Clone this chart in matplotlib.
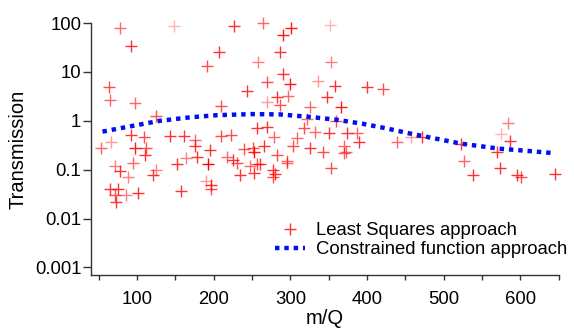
"""Transmission vs m/Q: least squares points and constrained fit."""
import matplotlib
matplotlib.use("Agg")
import matplotlib.pyplot as plt
from matplotlib.ticker import MultipleLocator, FixedLocator, NullLocator

# least squares estimates (m/Q, transmission, opacity)
LS_MQ = [78, 148, 226, 92, 207, 191, 64, 65, 97, 209, 243,
         264, 301, 290, 352, 286, 258, 353, 290, 269, 300, 336, 358, 400, 421,
         283, 297, 270, 348, 286, 325, 366, 125,
         53, 66, 92, 109, 143, 161, 175, 209, 223, 97, 112, 110, 175, 195,
         178, 164, 152, 192, 218, 225, 240, 231, 234, 71, 78, 88, 121,
         65, 75, 71, 73, 86, 101, 158, 196, 190, 196, 125, 95, 253, 277,
         277, 257, 295,
         322, 360, 257, 269, 279, 318, 332, 351, 374, 387, 309, 304, 326,
         342, 370, 390, 370, 439, 253, 251, 266, 283, 296, 247, 260, 280,
         353, 372,
         457, 471, 523, 526, 538, 584, 575, 587, 570, 573, 595, 601, 645]
LS_T = [78, 88, 88, 34, 26, 13, 4.9, 2.6, 2.3, 2.0, 4.1,
        100, 79, 57, 91, 26, 16, 16, 9.1, 6.3, 5.7, 6.6, 5.2, 4.9, 4.5,
        3.1, 3.2, 2.4, 3.1, 2.1, 1.9, 1.9, 1.25,
        0.28, 0.36, 0.5, 0.47, 0.48, 0.48, 0.41, 0.48, 0.5, 0.28, 0.28, 0.2,
        0.31, 0.25, 0.18, 0.17, 0.13, 0.13, 0.18, 0.16, 0.26, 0.14, 0.076,
        0.12, 0.092, 0.072, 0.076,
        0.04, 0.04, 0.031, 0.022, 0.031, 0.034, 0.037, 0.049, 0.058, 0.04,
        0.1, 0.14, 0.085, 0.1, 0.07, 0.13, 0.14,
        1.1, 1.0, 0.7, 0.73, 0.47, 0.72, 0.6, 0.57, 0.55, 0.57, 0.45, 0.31,
        0.28, 0.23, 0.3, 0.37, 0.22, 0.37, 0.23, 0.28, 0.3, 0.2, 0.15, 0.12,
        0.13, 0.08, 0.11, 0.23,
        0.47, 0.47, 0.34, 0.15, 0.076, 0.91, 0.54, 0.39, 0.23, 0.11, 0.076,
        0.07, 0.08]
LS_ALPHA = [0.6, 0.3, 0.8, 0.8, 0.8, 0.7, 0.7, 0.6, 0.6, 0.7, 0.8,
            0.6, 0.9, 0.9, 0.3, 0.8, 0.5, 0.5, 0.8, 0.7, 0.9, 0.4, 0.8, 0.8, 0.7,
            0.8, 0.6, 0.4, 0.8, 0.7, 0.6, 0.9, 0.7,
            0.6, 0.4, 0.8, 0.7, 0.8, 0.8, 0.6, 0.7, 0.7, 0.9, 0.7, 0.8, 0.8,
            0.8, 0.8, 0.5, 0.8, 1.0, 0.6, 0.8, 0.7, 0.7, 0.8, 0.5, 0.8, 0.5,
            0.8,
            0.8, 0.8, 0.7, 0.8, 0.5, 0.8, 0.8, 0.8, 0.4, 0.7, 0.5, 0.6, 0.8,
            0.8, 0.7, 0.7, 0.6,
            0.6, 0.7, 0.8, 0.8, 0.6, 0.7, 0.6, 0.8, 0.8, 0.6, 0.6, 0.7, 0.8,
            0.7, 0.6, 0.8, 0.6, 0.6, 0.9, 0.7, 0.8, 0.7, 0.6, 0.6, 0.8, 0.8,
            0.7, 0.6,
            0.4, 0.8, 0.8, 0.6, 0.8, 0.5, 0.3, 0.8, 0.8, 0.8, 0.8, 0.7, 0.8]

# constrained function curve
FIT_MQ = [55, 95, 130, 170, 204, 250, 286, 325, 360, 394, 425, 458, 490,
          523, 571, 605, 640]
FIT_T = [0.6, 0.79, 1.0, 1.18, 1.3, 1.37, 1.35, 1.2, 1.05, 0.87, 0.7, 0.54,
         0.43, 0.34, 0.27, 0.245, 0.22]

YTICKS = [0.001, 0.01, 0.1, 1, 10, 100]
YTICKLABELS = ["0.001", "0.01", "0.1", "1", "10", "100"]


def main():
    plt.rcParams["font.family"] = ["Liberation Sans", "DejaVu Sans"]
    fig = plt.figure(figsize=(5.74, 3.32), dpi=100)
    ax = fig.add_axes([0.1585, 0.1717, 0.815, 0.759])

    for x, y, a in zip(LS_MQ, LS_T, LS_ALPHA):
        ax.plot(x, y, "+", color="red", alpha=a, ms=9, mew=1.0,
                clip_on=False)
    ax.plot([], [], "+", color="red", alpha=0.8, ms=9, mew=1.0,
            label="Least Squares approach")
    ax.plot(FIT_MQ, FIT_T, color="#0010ee", lw=3.2, ls=(0, (1, 1.1)),
            label="Constrained function approach")

    ax.set_yscale("log")
    ax.set_xlim(40, 650)
    ax.set_ylim(0.0007, 100)
    ax.yaxis.set_major_locator(FixedLocator(YTICKS))
    ax.set_yticklabels(YTICKLABELS)
    ax.yaxis.set_minor_locator(NullLocator())
    ax.xaxis.set_major_locator(FixedLocator([100, 200, 300, 400, 500, 600]))
    ax.xaxis.set_minor_locator(MultipleLocator(50))

    for s in ["top", "right"]:
        ax.spines[s].set_visible(False)
    for s in ["left", "bottom"]:
        ax.spines[s].set_color("#333333")
        ax.spines[s].set_linewidth(1.0)
    ax.tick_params(axis="y", length=6, width=1, color="#333333",
                   labelsize=13.3, pad=1)
    ax.tick_params(axis="x", which="both", length=3.5, width=1,
                   color="#333333", labelsize=13.3, pad=8)

    ax.set_xlabel("m/Q", fontsize=14.5, labelpad=1)
    ax.set_ylabel("Transmission", fontsize=14.5, labelpad=5)
    ax.legend(loc="lower right", bbox_to_anchor=(1.045, 0.015), frameon=False,
              fontsize=13.3, handlelength=1.6, handletextpad=0.6,
              labelspacing=0.1, borderpad=0.2)

    fig.savefig("out.png", dpi=100)


if __name__ == "__main__":
    main()
